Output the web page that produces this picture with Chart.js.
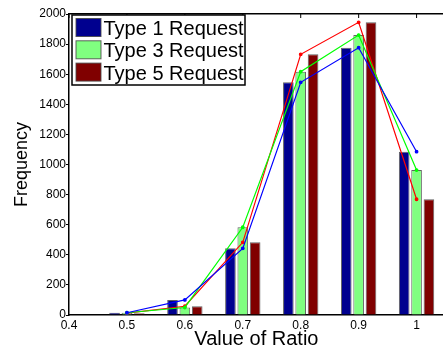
<!DOCTYPE html>
<html>
<head>
<meta charset="utf-8">
<script src="https://cdn.jsdelivr.net/npm/chart.js@4.4.1/dist/chart.umd.min.js"></script>
<style>
  html, body { margin: 0; padding: 0; background: #fff; overflow: hidden; }
  /* plot runs a few px past the window edge, like the cropped original */
  #wrap { width: 447px; height: 352px; position: relative; }
</style>
</head>
<body>
<div id="wrap"><canvas id="ratioChart"></canvas></div>
<script>
// ---- data ----
const ratios = [0.5, 0.6, 0.7, 0.8, 0.9, 1.0];
const type1 = [15, 100, 443, 1546, 1776, 1085];
const type3 = [15, 50, 583, 1617, 1860, 963];
const type5 = [12, 58, 483, 1732, 1945, 769];
const seriesNames = ['Type 1 Request', 'Type 3 Request', 'Type 5 Request'];
const xTickValues = [0.4, 0.5, 0.6, 0.7, 0.8, 0.9, 1.0];
const xTickLabels = ['0.4', '0.5', '0.6', '0.7', '0.8', '0.9', '1'];

// colours (matlab style)
const barColors = ['#00008f', '#80ff80', '#800000'];
const lineColors = ['#0000ff', '#00ff00', '#ff0000'];

Chart.defaults.font.family = "'Liberation Sans', Arial, sans-serif";
Chart.defaults.color = '#000';

const toPoints = arr => ratios.map((r, i) => ({ x: r, y: arr[i] }));
const allSeries = [type1, type3, type5];

// bars grouped per ratio, lines drawn on top (lower order = drawn later)
const barSets = allSeries.map((s, i) => ({
  type: 'bar',
  label: seriesNames[i],
  data: toPoints(s),
  backgroundColor: barColors[i],
  borderColor: 'rgba(70,70,70,0.85)',
  borderWidth: 1,
  categoryPercentage: 0.64,
  barPercentage: 0.86,
  order: 1
}));
const lineSets = allSeries.map((s, i) => ({
  type: 'line',
  label: seriesNames[i] + ' line',
  data: toPoints(s),
  borderColor: lineColors[i],
  backgroundColor: lineColors[i],
  borderWidth: 1.2,
  pointRadius: 1.3,
  pointHoverRadius: 2,
  tension: 0,
  fill: false,
  order: 0
}));

// ---- inner top ticks and legend box ----
const frameAndLegend = {
  id: 'frameAndLegend',
  afterDraw(chart) {
    const { ctx, chartArea, scales } = chart;
    const top = chartArea.top;
    ctx.save();
    ctx.fillStyle = '#000';
    xTickValues.forEach(v => {
      const px = scales.x.getPixelForValue(v);
      ctx.fillRect(px - 0.5, top, 1, 4);
    });

    // legend
    const bx = 72, by = 15, bw = 173, bh = 70;
    ctx.fillStyle = '#fff';
    ctx.fillRect(bx, by, bw, bh);
    ctx.strokeStyle = '#000';
    ctx.lineWidth = 1.5;
    ctx.strokeRect(bx, by, bw, bh);
    ctx.font = "20px 'Liberation Sans', Arial, sans-serif";
    ctx.textBaseline = 'alphabetic';
    ctx.textAlign = 'left';
    seriesNames.forEach((name, i) => {
      const rowY = by + 3.5 + i * 22.3;
      ctx.fillStyle = barColors[i];
      ctx.fillRect(bx + 4, rowY, 25, 18);
      ctx.strokeStyle = 'rgba(70,70,70,0.85)';
      ctx.lineWidth = 1;
      ctx.strokeRect(bx + 4, rowY, 25, 18);
      ctx.fillStyle = '#000';
      ctx.fillText(name, bx + 31.5, rowY + 16.5);
    });
    ctx.restore();
  }
};

new Chart(document.getElementById('ratioChart'), {
  data: { datasets: [...barSets, ...lineSets] },
  plugins: [frameAndLegend],
  options: {
    responsive: true,
    maintainAspectRatio: false,
    animation: false,
    layout: { padding: { top: 14, right: 0, left: 0, bottom: 0 } },
    plugins: {
      legend: { display: false },
      tooltip: { enabled: false }
    },
    scales: {
      x: {
        type: 'linear',
        offset: false,
        min: 0.4,
        max: 1.047,
        afterBuildTicks: axis => { axis.ticks = xTickValues.map(v => ({ value: v })); },
        afterFit: scale => { scale.height = 37; },
        ticks: {
          padding: 3,
          font: { size: 12 },
          color: '#000',
          callback: (v, i) => xTickLabels[i]
        },
        grid: { display: false, drawTicks: false },
        border: { display: true, color: '#000', width: 1.5 },
        title: {
          display: true,
          text: 'Value of Ratio',
          font: { size: 20 },
          color: '#000',
          padding: { top: 0, bottom: 1 }
        }
      },
      // top frame edge
      xTop: {
        type: 'linear',
        position: 'top',
        offset: false,
        min: 0.4,
        max: 1.047,
        afterFit: scale => { scale.height = 0; },
        ticks: { display: false },
        grid: { display: false, drawTicks: false },
        border: { display: true, color: '#000', width: 1.5 }
      },
      y: {
        min: 0,
        max: 2000,
        afterFit: scale => { scale.width = 69; },
        ticks: {
          stepSize: 200,
          padding: 0,
          font: { size: 12 },
          color: '#000',
          callback: v => String(v)
        },
        grid: { display: true, drawOnChartArea: false, drawTicks: true, tickLength: 3, color: '#000' },
        border: { display: true, color: '#000', width: 1.5 },
        title: {
          display: true,
          text: 'Frequency',
          font: { size: 18 },
          color: '#000',
          padding: { top: 11, bottom: 0 }
        }
      }
    }
  }
});
</script>
</body>
</html>
